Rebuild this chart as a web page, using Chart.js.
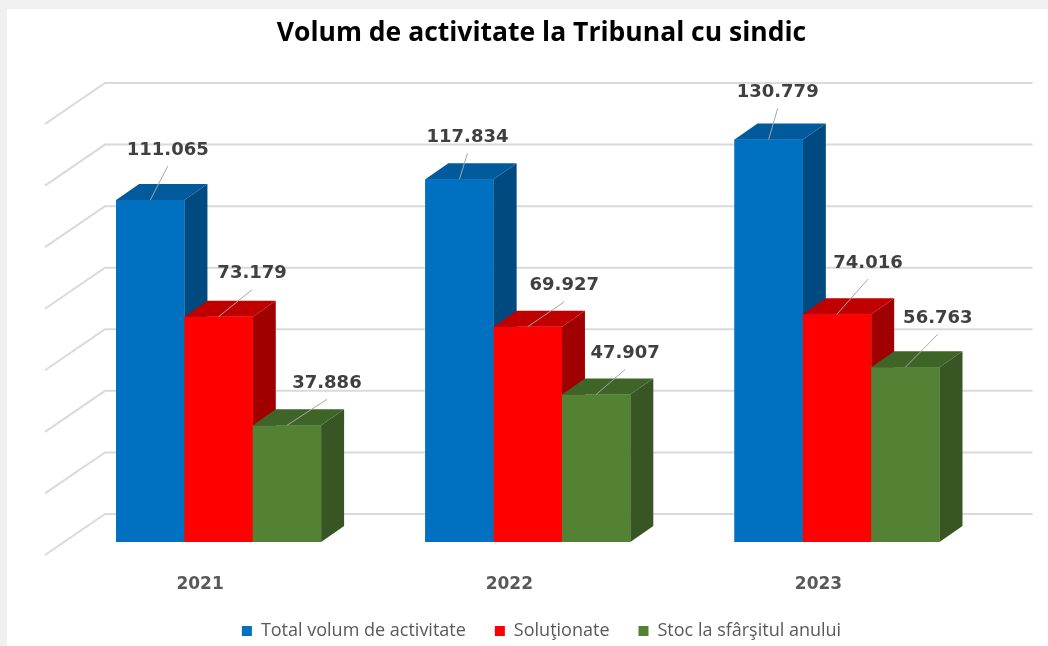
<!DOCTYPE html>
<html>
<head>
<meta charset="utf-8">
<script src="https://cdn.jsdelivr.net/npm/chart.js@4.4.1/dist/chart.umd.min.js"></script>
<style>
  html, body { margin: 0; padding: 0; background: #ffffff; }
  canvas { display: block; }
</style>
</head>
<body>
<canvas id="c" width="1048" height="646"></canvas>
<script>
// ---- data ----
const categories = ['2021', '2022', '2023'];
const seriesNames = ['Total volum de activitate', 'Soluţionate', 'Stoc la sfârşitul anului'];
const totalVolum = [111065, 117834, 130779];
const solutionate = [73179, 69927, 74016];
const stocFinal = [37886, 47907, 56763];
const valueTicks = [0, 20000, 40000, 60000, 80000, 100000, 120000, 140000];

// ---- styles ----
const frontColors = ['#0070C0', '#FF0000', '#548235'];
const topColors = ['#005A9C', '#C00000', '#3F6427'];
const sideColors = ['#004A80', '#A00000', '#375623'];
const depth = { dx: 23, dy: -16 };
const wall = { dx: 41, dy: -28, floorDx: -60, floorDy: 41 };
// label nudges relative to bar front-top centre (per series, per category)
const labelNudgeX = [[17.5, 8, 9], [33.5, 36.5, 31], [40, 29, 32.5]];
const labelNudgeY = [[-50, -42, -47], [-43, -41, -51], [-42, -41, -49]];

function fmt(v) {
  return String(v).replace(/\B(?=(\d{3})+(?!\d))/g, '.');
}

const bgPlugin = {
  id: 'bg',
  beforeDraw(chart) {
    const ctx = chart.ctx;
    ctx.save();
    ctx.fillStyle = '#f0f0f0';
    ctx.fillRect(0, 0, chart.width, chart.height);
    ctx.fillStyle = '#ffffff';
    ctx.fillRect(7, 9, chart.width - 7, chart.height - 9);
    ctx.restore();
  }
};

const wallPlugin = {
  id: 'wall',
  beforeDatasetsDraw(chart) {
    const ctx = chart.ctx;
    const ys = chart.scales.y;
    const a = chart.chartArea;
    ctx.save();
    ctx.strokeStyle = '#dadada';
    ctx.lineWidth = 2;
    valueTicks.forEach(v => {
      const y = ys.getPixelForValue(v) + wall.dy;
      const x0 = a.left + wall.dx;
      const x1 = a.right + wall.dx;
      ctx.beginPath();
      ctx.moveTo(x0 + wall.floorDx, y + wall.floorDy);
      ctx.lineTo(x0, y);
      ctx.lineTo(x1, y);
      ctx.stroke();
    });
    ctx.restore();
  }
};

const bars3dPlugin = {
  id: 'bars3d',
  afterDatasetsDraw(chart) {
    const ctx = chart.ctx;
    ctx.save();
    const n = chart.data.datasets.length;
    for (let c = 0; c < categories.length; c++) {
      for (let d = 0; d < n; d++) {
        const meta = chart.getDatasetMeta(d);
        const el = meta.data[c];
        if (!el) continue;
        const x0 = el.x - el.width / 2;
        const x1 = el.x + el.width / 2;
        const yt = el.y;
        const yb = el.base;
        // side
        ctx.fillStyle = sideColors[d];
        ctx.beginPath();
        ctx.moveTo(x1, yt);
        ctx.lineTo(x1 + depth.dx, yt + depth.dy);
        ctx.lineTo(x1 + depth.dx, yb + depth.dy);
        ctx.lineTo(x1, yb);
        ctx.closePath();
        ctx.fill();
        // top
        ctx.fillStyle = topColors[d];
        ctx.beginPath();
        ctx.moveTo(x0, yt);
        ctx.lineTo(x0 + depth.dx, yt + depth.dy);
        ctx.lineTo(x1 + depth.dx, yt + depth.dy);
        ctx.lineTo(x1, yt);
        ctx.closePath();
        ctx.fill();
        // front
        ctx.fillStyle = frontColors[d];
        ctx.fillRect(x0, yt, x1 - x0, yb - yt);
      }
    }
    // data labels with leader lines
    ctx.font = 'bold 18px "DejaVu Sans"';
    ctx.textAlign = 'center';
    ctx.textBaseline = 'middle';
    for (let d = 0; d < n; d++) {
      const meta = chart.getDatasetMeta(d);
      const vals = chart.data.datasets[d].data;
      meta.data.forEach((el, i) => {
        const lx = el.x + labelNudgeX[d][i];
        const ly = el.y + labelNudgeY[d][i];
        ctx.strokeStyle = '#a6a6a6';
        ctx.lineWidth = 1;
        ctx.beginPath();
        ctx.moveTo(lx, ly + 16);
        ctx.lineTo(el.x, el.y);
        ctx.stroke();
        ctx.fillStyle = '#404040';
        ctx.fillText(fmt(vals[i]), lx, ly);
      });
    }
    ctx.restore();
  }
};

new Chart(document.getElementById('c'), {
  type: 'bar',
  data: {
    labels: categories,
    datasets: [
      { label: seriesNames[0], data: totalVolum, backgroundColor: frontColors[0] },
      { label: seriesNames[1], data: solutionate, backgroundColor: frontColors[1] },
      { label: seriesNames[2], data: stocFinal, backgroundColor: frontColors[2] }
    ]
  },
  options: {
    responsive: false,
    animation: false,
    devicePixelRatio: 1,
    layout: { padding: { top: 10, left: 35, right: 0, bottom: 6 } },
    datasets: { bar: { barPercentage: 1, categoryPercentage: 0.663, borderWidth: 0 } },
    scales: {
      x: {
        grid: { display: false, drawTicks: false },
        border: { display: false },
        ticks: {
          font: { family: 'DejaVu Sans', size: 17, weight: 'bold' },
          color: '#595959',
          padding: 32.5,
          labelOffset: -18.5
        },
        afterFit(s) { s.height = 51; }
      },
      y: {
        min: 0, max: 140000,
        position: 'left',
        ticks: { display: false, stepSize: 20000 },
        grid: { display: false, drawTicks: false },
        border: { display: false },
        afterFit(s) { s.width = 29; }
      },
      y2: {
        min: 0, max: 140000,
        position: 'right',
        ticks: { display: false },
        grid: { display: false, drawTicks: false },
        border: { display: false },
        afterFit(s) { s.width = 56.4; }
      }
    },
    plugins: {
      tooltip: { enabled: false },
      title: {
        display: true,
        text: 'Volum de activitate la Tribunal cu sindic',
        font: { family: 'Open Sans', size: 26.5, weight: 'bold' },
        color: '#000000',
        padding: { top: 8, bottom: 61.2 }
      },
      legend: {
        position: 'bottom',
        maxHeight: 47,
        labels: {
          boxWidth: 10,
          boxHeight: 10,
          padding: 29,
          font: { family: 'Open Sans', size: 18 },
          color: '#595959'
        }
      }
    }
  },
  plugins: [bgPlugin, wallPlugin, bars3dPlugin]
});
</script>
</body>
</html>
